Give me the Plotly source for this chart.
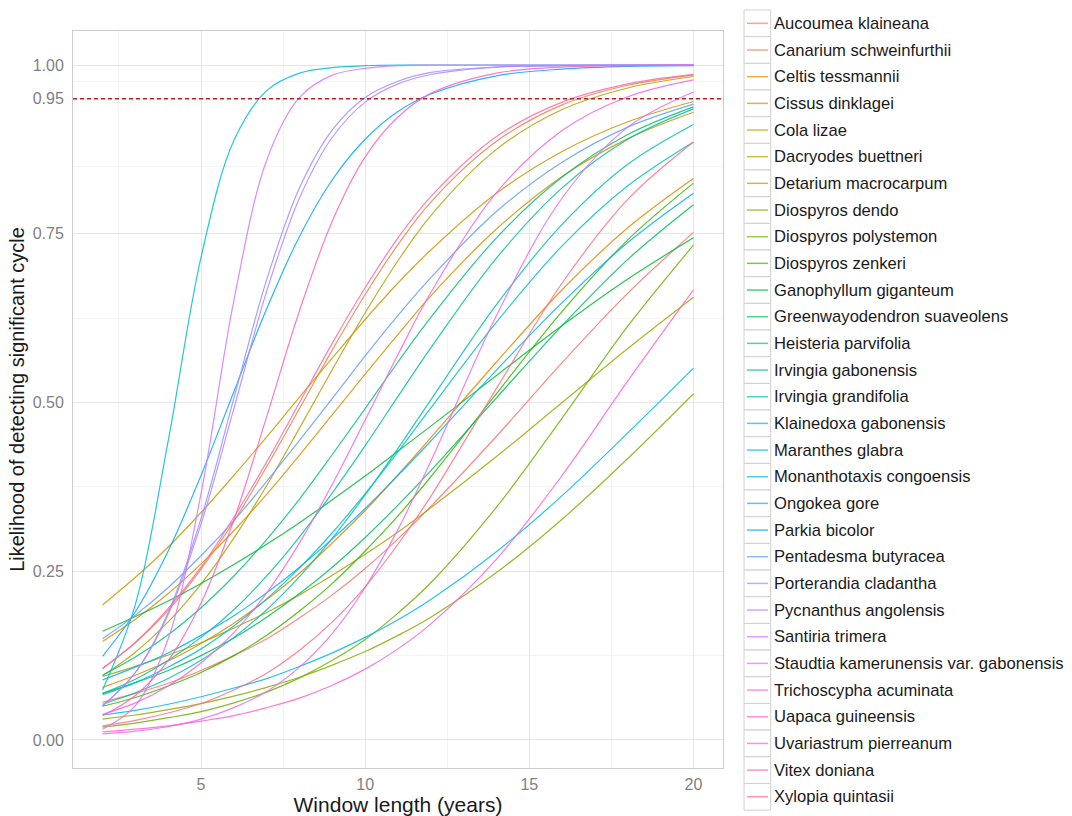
import math
import plotly.graph_objects as go

# ---------------- data ----------------
window_years = [2, 3, 4, 5, 6, 7, 8, 9, 10, 11, 12, 14, 16, 18, 20]

aucoumea_klaineana = [0.056, 0.069, 0.084, 0.103, 0.125, 0.150, 0.181, 0.215, 0.254, 0.298, 0.346, 0.450, 0.559, 0.662, 0.752]
canarium_schweinfurthii = [0.106, 0.144, 0.192, 0.253, 0.324, 0.405, 0.491, 0.578, 0.660, 0.734, 0.797, 0.887, 0.941, 0.970, 0.985]
celtis_tessmannii = [0.078, 0.096, 0.117, 0.143, 0.173, 0.208, 0.247, 0.292, 0.340, 0.393, 0.448, 0.560, 0.667, 0.759, 0.832]
cissus_dinklagei = [0.146, 0.179, 0.217, 0.261, 0.310, 0.364, 0.422, 0.482, 0.542, 0.601, 0.658, 0.757, 0.835, 0.891, 0.930]
cola_lizae = [0.200, 0.241, 0.286, 0.337, 0.392, 0.449, 0.508, 0.566, 0.623, 0.677, 0.726, 0.810, 0.872, 0.916, 0.946]
dacryodes_buettneri = [0.095, 0.130, 0.175, 0.231, 0.299, 0.377, 0.462, 0.549, 0.633, 0.710, 0.777, 0.875, 0.934, 0.966, 0.983]
detarium_macrocarpum = [0.094, 0.109, 0.126, 0.144, 0.166, 0.189, 0.215, 0.244, 0.275, 0.308, 0.344, 0.420, 0.500, 0.580, 0.656]
diospyros_dendo = [0.031, 0.037, 0.045, 0.054, 0.065, 0.078, 0.093, 0.111, 0.131, 0.155, 0.182, 0.248, 0.327, 0.417, 0.513]
diospyros_polystemon = [0.019, 0.025, 0.033, 0.042, 0.055, 0.071, 0.092, 0.118, 0.149, 0.188, 0.233, 0.345, 0.477, 0.613, 0.733]
diospyros_zenkeri = [0.050, 0.063, 0.080, 0.100, 0.125, 0.155, 0.191, 0.232, 0.280, 0.332, 0.390, 0.513, 0.635, 0.741, 0.825]
ganophyllum_giganteum = [0.161, 0.183, 0.206, 0.232, 0.260, 0.290, 0.322, 0.356, 0.391, 0.428, 0.465, 0.540, 0.614, 0.683, 0.744]
greenwayodendron_suaveolens = [0.069, 0.085, 0.103, 0.125, 0.151, 0.182, 0.217, 0.256, 0.300, 0.348, 0.399, 0.507, 0.614, 0.712, 0.793]
heisteria_parvifolia = [0.096, 0.123, 0.156, 0.196, 0.243, 0.297, 0.357, 0.423, 0.491, 0.560, 0.626, 0.744, 0.834, 0.897, 0.938]
irvingia_gabonensis = [0.069, 0.090, 0.118, 0.152, 0.193, 0.243, 0.301, 0.366, 0.436, 0.509, 0.581, 0.714, 0.818, 0.890, 0.935]
irvingia_grandifolia = [0.053, 0.070, 0.091, 0.118, 0.152, 0.193, 0.242, 0.299, 0.363, 0.432, 0.504, 0.645, 0.764, 0.853, 0.912]
klainedoxa_gabonensis = [0.067, 0.085, 0.108, 0.135, 0.169, 0.209, 0.255, 0.307, 0.365, 0.427, 0.492, 0.619, 0.732, 0.821, 0.886]
maranthes_glabra = [0.074, 0.201, 0.443, 0.715, 0.888, 0.962, 0.988, 0.996, 0.999, 1.000, 1.000, 1.000, 1.000, 1.000, 1.000]
monanthotaxis_congoensis = [0.037, 0.044, 0.053, 0.064, 0.077, 0.091, 0.109, 0.129, 0.152, 0.178, 0.208, 0.279, 0.362, 0.455, 0.551]
ongokea_gore = [0.089, 0.108, 0.129, 0.155, 0.184, 0.218, 0.256, 0.298, 0.343, 0.392, 0.443, 0.548, 0.648, 0.737, 0.810]
parkia_bicolor = [0.124, 0.190, 0.280, 0.392, 0.516, 0.639, 0.746, 0.830, 0.890, 0.931, 0.957, 0.984, 0.994, 0.998, 0.999]
pentadesma_butyracea = [0.150, 0.185, 0.226, 0.273, 0.325, 0.383, 0.444, 0.506, 0.569, 0.629, 0.685, 0.783, 0.856, 0.908, 0.942]
porterandia_cladantha = [0.050, 0.100, 0.189, 0.328, 0.506, 0.682, 0.818, 0.904, 0.952, 0.976, 0.989, 0.997, 0.999, 1.000, 1.000]
pycnanthus_angolensis = [0.051, 0.100, 0.186, 0.320, 0.491, 0.665, 0.803, 0.893, 0.945, 0.972, 0.986, 0.997, 0.999, 1.000, 1.000]
santiria_trimera = [0.016, 0.051, 0.150, 0.365, 0.651, 0.859, 0.952, 0.985, 0.995, 0.999, 1.000, 1.000, 1.000, 1.000, 1.000]
staudtia_kamerunensis = [0.009, 0.013, 0.020, 0.031, 0.048, 0.072, 0.108, 0.158, 0.226, 0.312, 0.413, 0.629, 0.803, 0.908, 0.960]
trichoscypha_acuminata = [0.038, 0.055, 0.080, 0.114, 0.159, 0.218, 0.292, 0.379, 0.474, 0.571, 0.663, 0.811, 0.903, 0.953, 0.978]
uapaca_guineensis = [0.012, 0.016, 0.021, 0.028, 0.036, 0.048, 0.062, 0.081, 0.105, 0.135, 0.172, 0.268, 0.392, 0.532, 0.667]
uvariastrum_pierreanum = [0.036, 0.066, 0.118, 0.203, 0.326, 0.479, 0.636, 0.769, 0.864, 0.923, 0.958, 0.988, 0.997, 0.999, 1.000]
vitex_doniana = [0.106, 0.145, 0.195, 0.256, 0.330, 0.412, 0.500, 0.588, 0.670, 0.744, 0.805, 0.894, 0.945, 0.972, 0.986]
xylopia_quintasii = [0.021, 0.029, 0.040, 0.054, 0.074, 0.099, 0.133, 0.175, 0.227, 0.290, 0.361, 0.521, 0.677, 0.801, 0.886]

species = ["Aucoumea klaineana", "Canarium schweinfurthii", "Celtis tessmannii", "Cissus dinklagei",
           "Cola lizae", "Dacryodes buettneri", "Detarium macrocarpum", "Diospyros dendo",
           "Diospyros polystemon", "Diospyros zenkeri", "Ganophyllum giganteum",
           "Greenwayodendron suaveolens", "Heisteria parvifolia", "Irvingia gabonensis",
           "Irvingia grandifolia", "Klainedoxa gabonensis", "Maranthes glabra",
           "Monanthotaxis congoensis", "Ongokea gore", "Parkia bicolor", "Pentadesma butyracea",
           "Porterandia cladantha", "Pycnanthus angolensis", "Santiria trimera",
           "Staudtia kamerunensis var. gabonensis", "Trichoscypha acuminata", "Uapaca guineensis",
           "Uvariastrum pierreanum", "Vitex doniana", "Xylopia quintasii"]

series = [aucoumea_klaineana, canarium_schweinfurthii, celtis_tessmannii, cissus_dinklagei,
          cola_lizae, dacryodes_buettneri, detarium_macrocarpum, diospyros_dendo,
          diospyros_polystemon, diospyros_zenkeri, ganophyllum_giganteum,
          greenwayodendron_suaveolens, heisteria_parvifolia, irvingia_gabonensis,
          irvingia_grandifolia, klainedoxa_gabonensis, maranthes_glabra,
          monanthotaxis_congoensis, ongokea_gore, parkia_bicolor, pentadesma_butyracea,
          porterandia_cladantha, pycnanthus_angolensis, santiria_trimera, staudtia_kamerunensis,
          trichoscypha_acuminata, uapaca_guineensis, uvariastrum_pierreanum, vitex_doniana,
          xylopia_quintasii]

threshold = 0.95
x_ticks = [5, 10, 15, 20]
y_ticks = [0.0, 0.25, 0.5, 0.75, 0.95, 1.0]
y_tick_labels = ["0.00", "0.25", "0.50", "0.75", "0.95", "1.00"]


# ---------------- ggplot-like hue palette ----------------
def hcl_rgb(h, c=100, l=65):
    hr = math.radians(h)
    u, v = c * math.cos(hr), c * math.sin(hr)
    Xn, Yn, Zn = 95.047, 100.0, 108.883
    Y = Yn * ((l + 16) / 116) ** 3
    den = Xn + 15 * Yn + 3 * Zn
    un, vn = 4 * Xn / den, 9 * Yn / den
    up, vp = u / (13 * l) + un, v / (13 * l) + vn
    X = Y * 9 * up / (4 * vp)
    Z = Y * (12 - 3 * up - 20 * vp) / (4 * vp)
    x, y, z = X / 100, Y / 100, Z / 100
    rgb = [3.240479 * x - 1.537150 * y - 0.498535 * z,
           -0.969256 * x + 1.875992 * y + 0.041556 * z,
           0.055648 * x - 0.204043 * y + 1.057311 * z]
    out = []
    for t in rgb:
        t = min(max(t, 0), 1)
        t = 12.92 * t if t <= 0.0031308 else 1.055 * t ** (1 / 2.4) - 0.055
        out.append(int(round(min(max(t, 0), 1) * 255)))
    return tuple(out)


n = len(species)
colors = [hcl_rgb(15 + 360 * i / n) for i in range(n)]

fig = go.Figure()
for name, ys, col in zip(species, series, colors):
    fig.add_trace(go.Scatter(x=window_years, y=ys, mode="lines", name=name, showlegend=False,
                             line=dict(color="rgba(%d,%d,%d,0.85)" % col, width=1.2,
                                       shape="spline", smoothing=1.0)))

fig.add_shape(type="line", xref="paper", x0=0, x1=1, yref="y", y0=threshold, y1=threshold,
              line=dict(color="#B22222", width=1.3, dash="4px,3px"))

# ---------------- manual ggplot-style legend ----------------
W, H = 1072, 816
ml, mr, mt, mb = 73, 349, 31, 48
pw, ph = W - ml - mr, H - mt - mb


def px_x(px):
    return (px - ml) / pw


def px_y(py):
    return (H - mb - py) / ph


row_h = 26.67
top0 = 10
for i, (name, col) in enumerate(zip(species, colors)):
    t = top0 + i * row_h
    fig.add_shape(type="rect", xref="paper", yref="paper", x0=px_x(744), x1=px_x(770.7),
                  y0=px_y(t + row_h), y1=px_y(t), line=dict(color="#D0D0D0", width=1),
                  fillcolor="white", layer="above")
    fig.add_shape(type="line", xref="paper", yref="paper", x0=px_x(747), x1=px_x(768),
                  y0=px_y(t + row_h / 2), y1=px_y(t + row_h / 2),
                  line=dict(color="rgba(%d,%d,%d,0.7)" % col, width=1.5), layer="above")
    fig.add_annotation(xref="paper", yref="paper", x=px_x(772), y=px_y(t + row_h / 2),
                       xanchor="left", yanchor="middle", text=name, showarrow=False,
                       font=dict(size=16.6, color="#1A1A1A"))

fig.update_layout(
    width=W, height=H, margin=dict(l=ml, r=mr, t=mt, b=mb, autoexpand=False),
    paper_bgcolor="white", plot_bgcolor="white", showlegend=False,
    font=dict(family="Liberation Sans, Arial, sans-serif", color="#1A1A1A"),
)
fig.update_xaxes(range=[1.1, 20.9], tickvals=x_ticks, ticks="outside", ticklen=2,
                 tickcolor="rgba(0,0,0,0)", tickfont=dict(size=16, color="#7F7F7F"),
                 showgrid=True, gridcolor="#E6E6E6", gridwidth=1, zeroline=False,
                 showline=True, mirror=True, linecolor="#CCCCCC", linewidth=1,
                 minor=dict(tickvals=[2.5, 7.5, 12.5, 17.5], showgrid=True, gridcolor="#F4F4F4",
                            gridwidth=1, ticks=""),
                 title=dict(text="Window length (years)", font=dict(size=21, color="#1A1A1A"),
                            standoff=6), automargin=False)
fig.update_yaxes(range=[-0.0415, 1.0504], tickvals=y_ticks, ticktext=y_tick_labels,
                 ticks="outside", ticklen=5, tickcolor="rgba(0,0,0,0)",
                 tickfont=dict(size=16, color="#7F7F7F"),
                 showgrid=True, gridcolor="#E6E6E6", gridwidth=1, zeroline=False,
                 showline=True, mirror=True, linecolor="#CCCCCC", linewidth=1,
                 minor=dict(tickvals=[0.125, 0.375, 0.625, 0.85, 0.975], showgrid=True,
                            gridcolor="#F4F4F4", gridwidth=1, ticks=""),
                 title=dict(text="Likelihood of detecting significant cycle",
                            font=dict(size=20, color="#1A1A1A"), standoff=2), automargin=False)

fig.write_html("out.html")
